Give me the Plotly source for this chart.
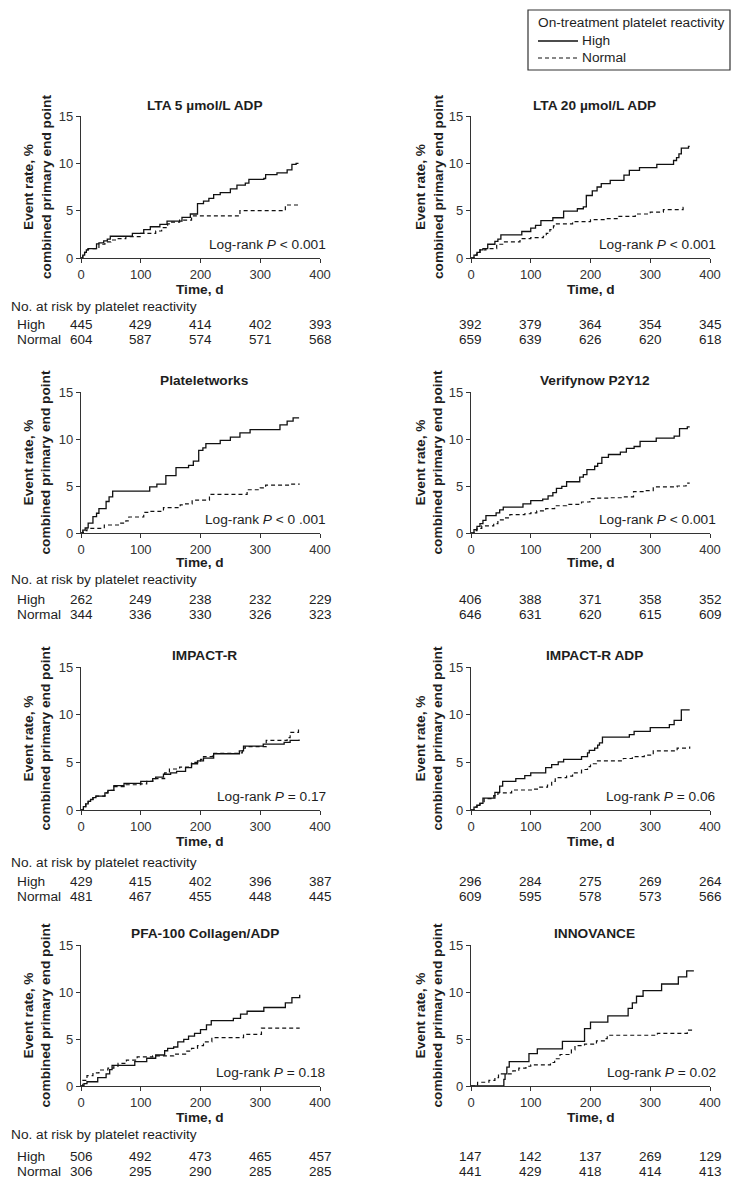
import plotly.graph_objects as go

# page is 740x1187; the html body keeps its default 8px margin, so the figure is 724x1171
PAGE_W, PAGE_H = 740, 1187
OFF = 8
W, H = PAGE_W - 2 * OFF, PAGE_H - 2 * OFF

# ---------------- data ----------------
time_ticks = [0, 100, 200, 300, 400]
rate_ticks = [0, 5, 10, 15]

titles = ["LTA 5 µmol/L ADP", "LTA 20 µmol/L ADP", "Plateletworks", "Verifynow P2Y12",
          "IMPACT-R", "IMPACT-R ADP", "PFA-100 Collagen/ADP", "INNOVANCE"]
logrank = ["Log-rank <i>P</i> < 0.001", "Log-rank <i>P</i> < 0.001", "Log-rank <i>P</i> < 0 .001",
           "Log-rank <i>P</i> < 0.001", "Log-rank <i>P</i> = 0.17", "Log-rank <i>P</i> = 0.06",
           "Log-rank <i>P</i> = 0.18", "Log-rank <i>P</i> = 0.02"]
legend_title = "On-treatment platelet reactivity"
series_names = ["High", "Normal"]

lta5_high_t = [0, 3, 6, 9, 12, 26, 30, 38, 44, 49, 86, 105, 116, 132, 144, 169, 183, 195, 205, 214, 222, 233, 250, 261, 275, 281, 306, 309, 328, 345, 353, 360, 364]
lta5_high_y = [0, 0.3, 0.6, 0.85, 1.0, 1.5, 1.6, 1.8, 2.0, 2.3, 2.6, 3.0, 3.3, 3.55, 3.9, 4.3, 4.65, 5.75, 6.0, 6.3, 6.7, 6.9, 7.3, 7.7, 7.9, 8.3, 8.4, 8.8, 9.0, 9.3, 9.9, 10.0, 10.0]
lta5_norm_t = [0, 3, 6, 9, 12, 30, 40, 50, 60, 75, 100, 125, 135, 145, 150, 165, 185, 266, 342, 365]
lta5_norm_y = [0, 0.3, 0.6, 0.85, 1.0, 1.45, 1.7, 1.9, 2.05, 2.25, 2.6, 2.85, 3.2, 3.6, 3.8, 4.0, 4.45, 5.0, 5.6, 5.6]

lta20_high_t = [0, 5, 10, 15, 20, 28, 40, 45, 50, 85, 100, 108, 117, 137, 155, 178, 188, 193, 203, 211, 218, 233, 256, 265, 282, 311, 339, 344, 348, 352, 364, 366]
lta20_high_y = [0, 0.3, 0.6, 0.85, 1.0, 1.45, 1.75, 2.0, 2.45, 2.8, 3.15, 3.45, 3.95, 4.25, 4.95, 5.2, 5.4, 6.6, 7.1, 7.5, 7.85, 8.2, 8.75, 9.25, 9.55, 9.9, 10.3, 10.6, 11.0, 11.6, 11.8, 11.8]
lta20_norm_t = [0, 5, 10, 15, 25, 43, 55, 82, 100, 121, 126, 132, 138, 143, 170, 200, 225, 246, 275, 300, 322, 355, 360]
lta20_norm_y = [0, 0.3, 0.6, 0.85, 1.0, 1.45, 1.7, 2.05, 2.15, 2.3, 2.6, 3.0, 3.4, 3.6, 3.85, 4.05, 4.15, 4.4, 4.65, 4.85, 5.1, 5.35, 5.35]

pw_high_t = [0, 3, 7, 12, 20, 26, 30, 42, 47, 53, 115, 127, 142, 159, 180, 188, 197, 204, 209, 233, 250, 266, 283, 333, 345, 355, 365]
pw_high_y = [0, 0.3, 0.55, 1.05, 1.75, 2.1, 2.6, 3.35, 3.85, 4.45, 4.9, 5.2, 6.1, 6.95, 7.2, 7.65, 8.8, 9.05, 9.5, 9.85, 10.2, 10.65, 11.0, 11.5, 11.9, 12.25, 12.25]
pw_norm_t = [0, 4, 10, 39, 65, 75, 80, 105, 115, 138, 166, 175, 186, 215, 278, 300, 309, 350, 366]
pw_norm_y = [0, 0.25, 0.5, 0.85, 1.05, 1.3, 1.7, 2.2, 2.3, 2.7, 3.0, 3.1, 3.5, 4.1, 4.6, 4.8, 5.1, 5.2, 5.2]

vn_high_t = [0, 5, 10, 15, 20, 25, 42, 48, 54, 87, 100, 120, 129, 137, 143, 152, 160, 182, 188, 194, 207, 212, 219, 230, 250, 260, 273, 283, 310, 340, 349, 362, 366]
vn_high_y = [0, 0.35, 0.7, 1.0, 1.35, 1.85, 2.15, 2.45, 2.75, 3.1, 3.45, 3.6, 3.95, 4.3, 4.75, 4.95, 5.45, 5.95, 6.2, 6.75, 7.1, 7.4, 8.05, 8.35, 8.6, 9.0, 9.2, 9.75, 10.1, 10.3, 11.1, 11.3, 11.3]
vn_norm_t = [0, 5, 10, 18, 38, 45, 55, 65, 90, 100, 110, 125, 140, 160, 185, 199, 210, 230, 255, 272, 290, 305, 345, 360, 366]
vn_norm_y = [0, 0.25, 0.5, 0.75, 1.0, 1.4, 1.6, 1.95, 2.05, 2.15, 2.35, 2.6, 2.9, 3.05, 3.3, 3.65, 3.7, 3.75, 3.85, 4.4, 4.5, 4.9, 5.0, 5.3, 5.3]

ir_high_t = [0, 4, 8, 12, 16, 20, 25, 40, 45, 55, 72, 100, 120, 125, 138, 150, 160, 175, 185, 195, 205, 222, 265, 272, 305, 340, 350, 365]
ir_high_y = [0, 0.35, 0.65, 0.9, 1.1, 1.3, 1.45, 1.8, 2.05, 2.55, 2.8, 3.0, 3.3, 3.45, 3.75, 3.9, 4.05, 4.45, 4.85, 5.15, 5.45, 5.9, 6.2, 6.7, 6.9, 7.1, 7.3, 7.4]
ir_norm_t = [0, 4, 8, 12, 16, 20, 25, 40, 45, 55, 75, 100, 110, 120, 140, 148, 165, 185, 200, 205, 220, 265, 270, 275, 310, 345, 350, 364, 366]
ir_norm_y = [0, 0.35, 0.65, 0.9, 1.1, 1.3, 1.45, 1.8, 2.05, 2.45, 2.65, 2.75, 3.0, 3.3, 3.9, 4.3, 4.5, 5.0, 5.3, 5.6, 5.95, 6.0, 6.5, 6.65, 7.3, 7.6, 8.15, 8.45, 8.45]

ira_high_t = [0, 5, 10, 15, 20, 40, 48, 53, 75, 90, 100, 125, 135, 146, 155, 185, 195, 198, 207, 212, 215, 220, 265, 273, 300, 332, 340, 352, 366]
ira_high_y = [0, 0.3, 0.5, 0.7, 1.25, 1.85, 2.5, 3.0, 3.3, 3.6, 3.9, 4.45, 4.75, 5.05, 5.3, 5.6, 6.0, 6.25, 6.5, 6.8, 7.05, 7.65, 7.9, 8.25, 8.65, 8.95, 9.4, 10.5, 10.5]
ira_norm_t = [0, 5, 10, 15, 22, 38, 45, 68, 103, 115, 128, 135, 141, 160, 170, 185, 195, 200, 210, 255, 270, 290, 305, 345, 366]
ira_norm_y = [0, 0.3, 0.5, 0.7, 1.2, 1.5, 1.8, 2.1, 2.2, 2.4, 2.6, 3.0, 3.4, 3.55, 3.9, 4.25, 4.55, 4.85, 5.15, 5.4, 5.6, 5.75, 6.2, 6.5, 6.65]

pfa_high_t = [0, 5, 10, 28, 42, 48, 52, 90, 110, 125, 140, 145, 155, 162, 172, 180, 190, 200, 210, 218, 255, 267, 278, 306, 342, 353, 366]
pfa_high_y = [0, 0.25, 0.45, 0.9, 1.3, 1.75, 2.2, 2.6, 2.95, 3.3, 3.75, 4.0, 4.15, 4.7, 4.95, 5.3, 5.6, 6.0, 6.5, 6.95, 7.2, 7.65, 7.95, 8.35, 8.85, 9.4, 9.7]
pfa_norm_t = [0, 3, 10, 20, 30, 45, 55, 62, 76, 94, 120, 155, 175, 185, 195, 205, 219, 272, 302, 366]
pfa_norm_y = [0, 0.6, 1.1, 1.4, 1.7, 1.9, 2.1, 2.4, 2.75, 3.1, 3.2, 3.4, 3.7, 4.0, 4.3, 4.7, 5.15, 5.5, 6.15, 6.15]

inn_high_t = [0, 55, 57, 60, 64, 97, 111, 153, 190, 200, 229, 263, 270, 277, 288, 319, 347, 361, 373]
inn_high_y = [0, 0.7, 1.3, 2.0, 2.6, 3.45, 3.95, 4.75, 6.1, 6.8, 7.45, 8.25, 8.85, 9.55, 10.15, 10.85, 11.6, 12.25, 12.25]
inn_norm_t = [0, 11, 30, 40, 46, 70, 80, 92, 100, 133, 140, 149, 168, 174, 190, 210, 225, 228, 312, 362, 373]
inn_norm_y = [0, 0.4, 0.6, 0.9, 1.3, 1.6, 1.9, 2.1, 2.25, 2.5, 2.9, 3.35, 3.85, 4.3, 4.45, 4.8, 5.05, 5.4, 5.6, 5.95, 5.95]

lta5_risk_high = [445, 429, 414, 402, 393]
lta5_risk_norm = [604, 587, 574, 571, 568]
lta20_risk_high = [392, 379, 364, 354, 345]
lta20_risk_norm = [659, 639, 626, 620, 618]
pw_risk_high = [262, 249, 238, 232, 229]
pw_risk_norm = [344, 336, 330, 326, 323]
vn_risk_high = [406, 388, 371, 358, 352]
vn_risk_norm = [646, 631, 620, 615, 609]
ir_risk_high = [429, 415, 402, 396, 387]
ir_risk_norm = [481, 467, 455, 448, 445]
ira_risk_high = [296, 284, 275, 269, 264]
ira_risk_norm = [609, 595, 578, 573, 566]
pfa_risk_high = [506, 492, 473, 465, 457]
pfa_risk_norm = [306, 295, 290, 285, 285]
inn_risk_high = [147, 142, 137, 269, 129]
inn_risk_norm = [441, 429, 418, 414, 413]

panels = [
    (lta5_high_t, lta5_high_y, lta5_norm_t, lta5_norm_y, lta5_risk_high, lta5_risk_norm),
    (lta20_high_t, lta20_high_y, lta20_norm_t, lta20_norm_y, lta20_risk_high, lta20_risk_norm),
    (pw_high_t, pw_high_y, pw_norm_t, pw_norm_y, pw_risk_high, pw_risk_norm),
    (vn_high_t, vn_high_y, vn_norm_t, vn_norm_y, vn_risk_high, vn_risk_norm),
    (ir_high_t, ir_high_y, ir_norm_t, ir_norm_y, ir_risk_high, ir_risk_norm),
    (ira_high_t, ira_high_y, ira_norm_t, ira_norm_y, ira_risk_high, ira_risk_norm),
    (pfa_high_t, pfa_high_y, pfa_norm_t, pfa_norm_y, pfa_risk_high, pfa_risk_norm),
    (inn_high_t, inn_high_y, inn_norm_t, inn_norm_y, inn_risk_high, inn_risk_norm),
]

# ---------------- layout geometry (page pixels) ----------------
FONT = "Arial, Liberation Sans, Helvetica, sans-serif"
TXT = "#1e1e1e"
LINE = "#111111"
DASH = "4px,3px"
FS_TEXT = 13.7
FS_NUM = 13.5
FS_TICK = 13
col_px = [(81, 320), (471, 710)]
row_px = [(116, 258), (392, 533), (667, 810), (945, 1086)]
title_y = [105, 380, 655, 933]
timelab_y = [289, 563, 841, 1117]
norisk_y = [306, 579, 862, 1134]
high_y = [324, 599, 881, 1156]
normal_y = [339, 614, 896, 1171]
ytitle_x = [37, 429]


def fx(p):
    return (p - OFF) / W


def fy(p):
    return 1 - (p - OFF) / H


def txt(text, x, y, xanchor="center", xref="paper", angle=0, size=FS_TEXT):
    return dict(text=text, x=x, y=y, xref=xref, yref="paper", xanchor=xanchor, yanchor="middle",
                showarrow=False, textangle=angle, font=dict(family=FONT, size=size, color=TXT))


fig = go.Figure()
annotations = []
shapes = []
layout_axes = {}

for i, (ht, hy, nt, ny, rh, rn) in enumerate(panels):
    r, c = divmod(i, 2)
    n = i + 1
    suf = "" if n == 1 else str(n)
    xa, ya = "x" + suf, "y" + suf
    fig.add_trace(go.Scatter(x=ht, y=hy, mode="lines", name=series_names[0], showlegend=False,
                             xaxis=xa, yaxis=ya, line=dict(shape="hv", color=LINE, width=1.3)))
    fig.add_trace(go.Scatter(x=nt, y=ny, mode="lines", name=series_names[1], showlegend=False,
                             xaxis=xa, yaxis=ya,
                             line=dict(shape="hv", color=LINE, width=1.2, dash=DASH)))
    x0, x1 = col_px[c]
    yt, yb = row_px[r]
    axis_common = dict(showline=True, linecolor="#333333", linewidth=1.2, ticks="outside",
                       ticklen=4, tickwidth=1.2, tickcolor="#333333", showgrid=False,
                       zeroline=False, tickfont=dict(family=FONT, size=FS_TICK, color="#333333"),
                       fixedrange=True, automargin=False)
    layout_axes["xaxis" + suf] = dict(domain=[fx(x0), fx(x1)], range=[0, 400], anchor=ya,
                                      tickvals=time_ticks, **axis_common)
    layout_axes["yaxis" + suf] = dict(domain=[fy(yb), fy(yt)], range=[0, 15], anchor=xa,
                                      tickvals=rate_ticks, **axis_common)
    annotations.append(txt("<b>%s</b>" % titles[i], fx((x0 + x1) / 2 + 4), fy(title_y[r])))
    annotations.append(txt("<b>Event rate, %<br>combined primary end point</b>",
                           fx(ytitle_x[c]), fy((yt + yb) / 2), angle=-90))
    annotations.append(txt("<b>Time, d</b>", fx((x0 + x1) / 2), fy(timelab_y[r])))
    annotations.append(txt(logrank[i], fx(x1 + 8), fy(yb - 14), xanchor="right"))
    for tv, hv, nv in zip(time_ticks, rh, rn):
        annotations.append(txt(str(hv), tv, fy(high_y[r]), xref=xa, size=FS_NUM))
        annotations.append(txt(str(nv), tv, fy(normal_y[r]), xref=xa, size=FS_NUM))
    if c == 0:
        annotations.append(txt("No. at risk by platelet reactivity", fx(9), fy(norisk_y[r]), xanchor="left"))
        annotations.append(txt(series_names[0], fx(15), fy(high_y[r]), xanchor="left"))
        annotations.append(txt(series_names[1], fx(15), fy(normal_y[r]), xanchor="left"))

# ---------------- legend box (drawn) ----------------
shapes.append(dict(type="rect", xref="paper", yref="paper", x0=fx(528), x1=fx(730), y0=fy(70), y1=fy(10),
                   line=dict(color="#333333", width=1.2), fillcolor="white"))
annotations.append(txt(legend_title, fx(536), fy(23), xanchor="left"))
shapes.append(dict(type="line", xref="paper", yref="paper", x0=fx(538), x1=fx(578), y0=fy(41), y1=fy(41),
                   line=dict(color=LINE, width=1.3)))
shapes.append(dict(type="line", xref="paper", yref="paper", x0=fx(538), x1=fx(578), y0=fy(58), y1=fy(58),
                   line=dict(color=LINE, width=1.2, dash=DASH)))
annotations.append(txt(series_names[0], fx(580), fy(41), xanchor="left"))
annotations.append(txt(series_names[1], fx(580), fy(58), xanchor="left"))

fig.update_layout(
    width=W, height=H, autosize=False,
    margin=dict(l=0, r=0, t=0, b=0, pad=0),
    paper_bgcolor="white", plot_bgcolor="white",
    font=dict(family=FONT, size=FS_TEXT, color=TXT),
    annotations=annotations,
    shapes=shapes,
    showlegend=False,
    **layout_axes,
)

fig.write_html("out.html", config={"displayModeBar": False})
